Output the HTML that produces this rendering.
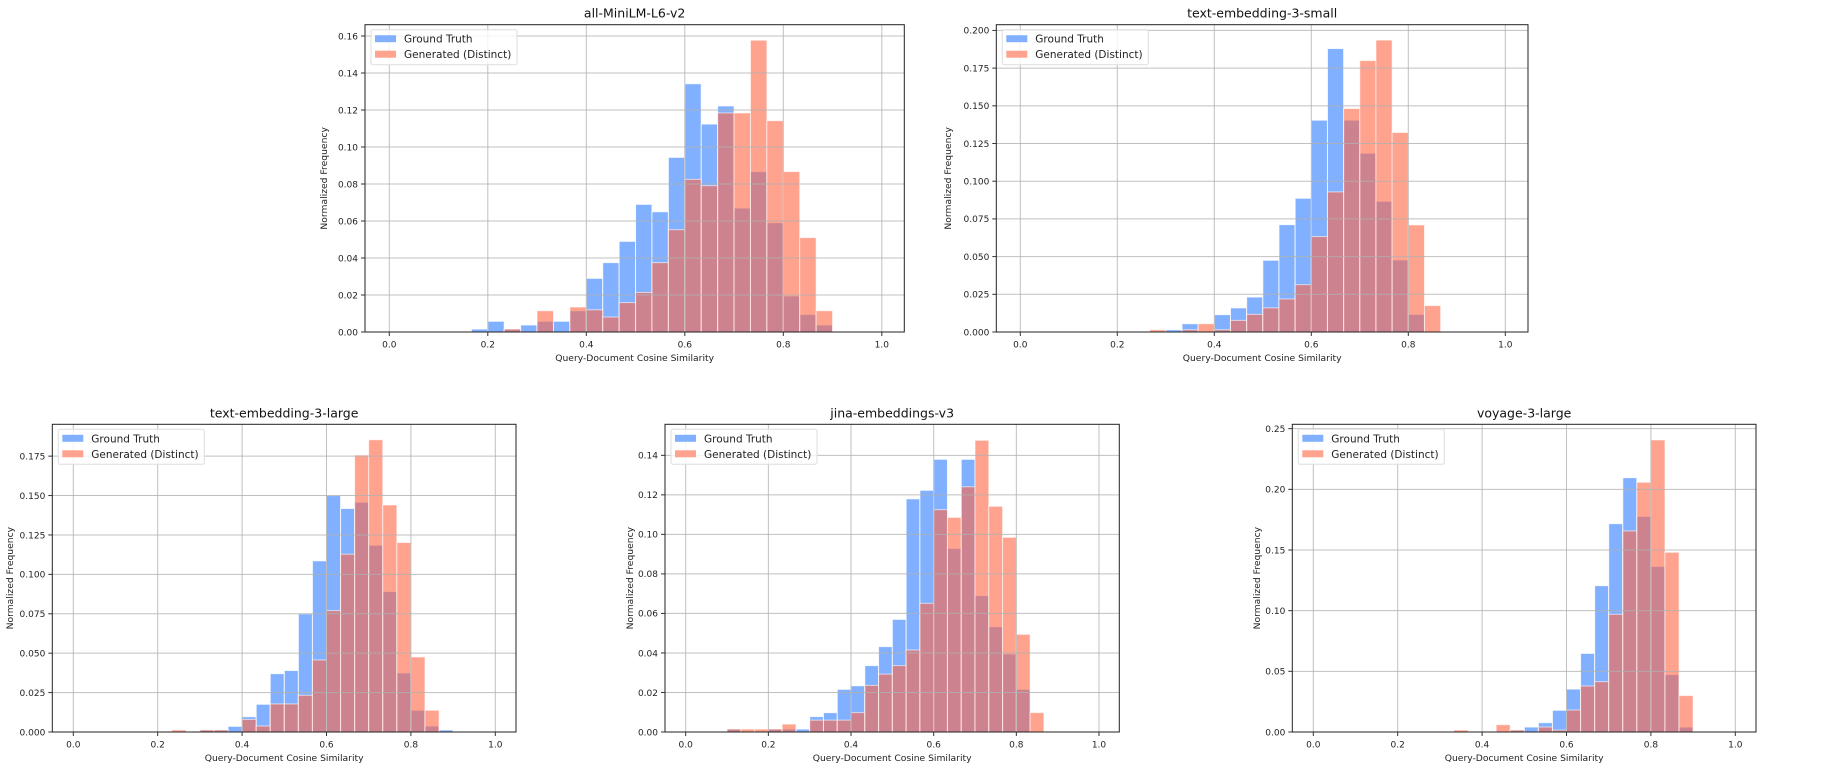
<!DOCTYPE html>
<html><head><meta charset="utf-8"><style>
html,body{margin:0;padding:0;background:#fff;}
svg{display:block;font-family:"DejaVu Sans","Liberation Sans",sans-serif;}
</style></head><body>
<svg id="s" width="1848" height="772" xmlns="http://www.w3.org/2000/svg"></svg>
<script>
const charts=[
{L:365,R:904.3,T:24.7,B:332,x0:389.3,x1:881.8,ymax:0.1661,yt:[0,0.02,0.04,0.06,0.08,0.1,0.12,0.14,0.16],dec:2,title:"all-MiniLM-L6-v2",ylx:324,
 blue:{5:0.0016,6:0.0058,7:0.0016,8:0.0038,9:0.0058,10:0.0058,11:0.0115,12:0.029,13:0.0375,14:0.049,15:0.069,16:0.065,17:0.0944,18:0.1342,19:0.1124,20:0.1222,21:0.067,22:0.0867,23:0.0591,24:0.0195,25:0.0095,26:0.0038},
 red:{7:0.0016,9:0.0115,11:0.0135,12:0.012,13:0.0081,14:0.0159,15:0.0214,16:0.0375,17:0.0553,18:0.0825,19:0.0791,20:0.1184,21:0.1184,22:0.1577,23:0.1142,24:0.0867,25:0.051,26:0.0115}},
{L:996.3,R:1528,T:24.7,B:332,x0:1020.3,x1:1505.3,ymax:0.2038,yt:[0,0.025,0.05,0.075,0.1,0.125,0.15,0.175,0.2],dec:3,title:"text-embedding-3-small",ylx:947.7,
 blue:{9:0.0015,10:0.0055,12:0.0115,13:0.016,14:0.0232,15:0.0476,16:0.0712,17:0.0887,18:0.1405,19:0.188,20:0.1405,21:0.1186,22:0.0867,23:0.0478,24:0.0117},
 red:{8:0.0015,10:0.0015,11:0.0055,12:0.0015,13:0.0077,14:0.0117,15:0.016,16:0.0219,17:0.0314,18:0.0633,19:0.0929,20:0.1482,21:0.18,22:0.1936,23:0.1323,24:0.071,25:0.0175}},
{L:52.3,R:516,T:424.3,B:732,x0:73.3,x1:495.3,ymax:0.1952,yt:[0,0.025,0.05,0.075,0.1,0.125,0.15,0.175],dec:3,title:"text-embedding-3-large",ylx:10,
 blue:{9:0.0013,10:0.0013,11:0.0036,12:0.0097,13:0.0176,14:0.037,15:0.039,16:0.075,17:0.1086,18:0.15,19:0.1418,20:0.1458,21:0.1185,22:0.0891,23:0.0375,24:0.0138,25:0.0038,26:0.0013},
 red:{7:0.0013,9:0.0013,10:0.0013,12:0.008,13:0.0038,14:0.0178,15:0.0178,16:0.0233,17:0.0457,18:0.077,19:0.1128,20:0.1757,21:0.1854,22:0.144,23:0.1202,24:0.0476,25:0.0138}},
{L:665,R:1119.3,T:424.3,B:732,x0:685.7,x1:1099,ymax:0.1557,yt:[0,0.02,0.04,0.06,0.08,0.1,0.12,0.14],dec:2,title:"jina-embeddings-v3",ylx:630,
 blue:{3:0.0015,6:0.0015,7:0.0015,8:0.0015,9:0.0078,10:0.0098,11:0.0216,12:0.0234,13:0.0336,14:0.0432,15:0.057,16:0.118,17:0.1223,18:0.138,19:0.0929,20:0.138,21:0.069,22:0.0533,23:0.0395,24:0.0216},
 red:{3:0.0015,4:0.0015,5:0.0015,6:0.0015,7:0.004,9:0.006,10:0.006,11:0.006,12:0.0098,13:0.0236,14:0.0293,15:0.0336,16:0.0415,17:0.0651,18:0.1125,19:0.1086,20:0.1241,21:0.1476,22:0.1142,23:0.0985,24:0.0494,25:0.0098}},
{L:1292.3,R:1756,T:424.3,B:732,x0:1313.3,x1:1735.3,ymax:0.2536,yt:[0,0.05,0.1,0.15,0.2,0.25],dec:2,title:"voyage-3-large",ylx:1256.7,
 blue:{14:0.0016,15:0.0041,16:0.0077,17:0.0179,18:0.0354,19:0.0648,20:0.1206,21:0.1717,22:0.2096,23:0.1777,24:0.1365,25:0.0473,26:0.0041},
 red:{10:0.0016,13:0.006,14:0.0016,16:0.0041,17:0.0016,18:0.0181,19:0.0379,20:0.0415,21:0.097,22:0.1657,23:0.2058,24:0.2407,25:0.1481,26:0.03}}
];
let h='';
for(const c of charts){
 const sx=v=>c.x0+(c.x1-c.x0)*v, sy=v=>c.B-(c.B-c.T)*v/c.ymax;
 const bw=(c.x1-c.x0)/30;
 h+=`<rect x="${c.L}" y="${c.T}" width="${c.R-c.L}" height="${c.B-c.T}" fill="#fff"/>`;
 for(const k in c.blue){const x=c.x0+bw*k,y=sy(c.blue[k]);h+=`<rect x="${x}" y="${y}" width="${bw}" height="${c.B-y}" fill="rgb(128,176,255)" stroke="#fff" stroke-opacity="0.8" stroke-width="1"/>`;}
 for(const k in c.red){const x=c.x0+bw*k,y=sy(c.red[k]);h+=`<rect x="${x}" y="${y}" width="${bw}" height="${c.B-y}" fill="rgb(255,101,68)" fill-opacity="0.6" stroke="#fff" stroke-opacity="0.6" stroke-width="1"/>`;}
 for(let i=0;i<=5;i++){const x=sx(i*0.2);h+=`<line x1="${x}" y1="${c.T}" x2="${x}" y2="${c.B}" stroke="#b0b0b0" stroke-opacity="0.8" stroke-width="1"/><line x1="${x}" y1="${c.B}" x2="${x}" y2="${c.B+4}" stroke="#333" stroke-width="1"/><text x="${x}" y="${c.B+15.5}" font-size="9" text-anchor="middle" fill="#222">${(i*0.2).toFixed(1)}</text>`;}
 for(const v of c.yt){const y=sy(v);h+=`<line x1="${c.L}" y1="${y}" x2="${c.R}" y2="${y}" stroke="#b0b0b0" stroke-opacity="0.8" stroke-width="1"/><line x1="${c.L-4}" y1="${y}" x2="${c.L}" y2="${y}" stroke="#333" stroke-width="1"/><text x="${c.L-7}" y="${y+3.3}" font-size="9" text-anchor="end" fill="#222">${v.toFixed(c.dec)}</text>`;}
 h+=`<rect x="${c.L}" y="${c.T}" width="${c.R-c.L}" height="${c.B-c.T}" fill="none" stroke="#222" stroke-width="1"/>`;
 const lx=c.L+6,ly=c.T+5;
 h+=`<rect x="${lx}" y="${ly}" width="146" height="35" rx="2" fill="#fff" fill-opacity="0.8" stroke="#ddd"/>`;
 h+=`<rect x="${lx+4}" y="${ly+5.5}" width="21" height="7" fill="rgb(128,176,255)"/><text x="${lx+33}" y="${ly+13}" font-size="10.5" fill="#222">Ground Truth</text>`;
 h+=`<rect x="${lx+4}" y="${ly+21}" width="21" height="7" fill="rgb(255,162,142)"/><text x="${lx+33}" y="${ly+28.5}" font-size="10.5" fill="#222">Generated (Distinct)</text>`;
 h+=`<text x="${(c.L+c.R)/2}" y="${c.T-7}" font-size="12.5" text-anchor="middle" fill="#111">${c.title}</text>`;
 h+=`<text x="${(c.L+c.R)/2}" y="${c.B+29}" font-size="9.2" text-anchor="middle" fill="#222">Query-Document Cosine Similarity</text>`;
 const cy=(c.T+c.B)/2;
 h+=`<text x="${c.ylx}" y="${cy}" font-size="9.2" text-anchor="middle" fill="#222" transform="rotate(-90 ${c.ylx} ${cy})" dy="3.2">Normalized Frequency</text>`;
}
document.getElementById('s').innerHTML=h;
</script>
</body></html>
